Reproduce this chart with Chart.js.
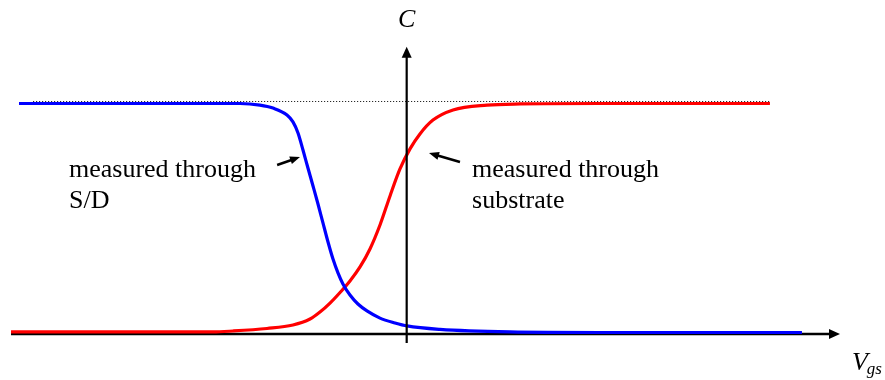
<!DOCTYPE html>
<html><head><meta charset="utf-8">
<script src="https://cdn.jsdelivr.net/npm/chart.js@4"></script>
<style>html,body{margin:0;padding:0;background:#fff}#wrap{width:885px;height:380px;position:relative}</style>
</head><body><div id="wrap"><canvas id="c"></canvas></div>
<script>
// Gate voltage (arbitrary units, 0 at the C axis) and normalised capacitance
const vgsSD  = [-4.677,-3.097,-2.011,-1.770,-1.613,-1.444,-1.372,-1.311,-1.251,-1.191,-1.130,-1.070,-1.010,-0.949,-0.889,-0.829,-0.769,-0.684,-0.588,-0.479,-0.322,-0.141,0.004,0.402,1.246,2.332,4.768];
const cSD    = [1.000,1.000,1.000,0.993,0.980,0.950,0.920,0.872,0.798,0.720,0.642,0.564,0.482,0.399,0.325,0.265,0.217,0.169,0.130,0.100,0.069,0.048,0.035,0.020,0.009,0.0065,0.0065];
const vgsSub = [-4.773,-3.097,-2.337,-2.095,-1.685,-1.372,-1.166,-1.046,-0.925,-0.804,-0.684,-0.563,-0.443,-0.322,-0.201,-0.081,0.040,0.160,0.317,0.559,0.969,1.367,2.332,4.382];
const cSub   = [0.009,0.009,0.009,0.013,0.024,0.039,0.065,0.095,0.134,0.180,0.230,0.291,0.369,0.473,0.599,0.716,0.803,0.868,0.928,0.972,0.993,0.998,1.000,1.000];
const refVgs = [-4.506, 4.382];
const refC   = [1.0087, 1.0087];
const axisTitleY = 'C';
const axisTitleX = 'V';
const axisTitleXSub = 'gs';
const labelSD  = ['measured through', 'S/D'];
const labelSub = ['measured through', 'substrate'];

const pts = (xs, ys) => xs.map((x, i) => ({x, y: ys[i]}));

function arrow(ctx, x1, y1, x2, y2, len, wid, lw) {
  const a = Math.atan2(y2 - y1, x2 - x1);
  const bx = x2 - len * Math.cos(a), by = y2 - len * Math.sin(a);
  ctx.lineWidth = lw;
  ctx.beginPath(); ctx.moveTo(x1, y1); ctx.lineTo(bx + Math.cos(a), by + Math.sin(a)); ctx.stroke();
  const px = -Math.sin(a) * wid / 2, py = Math.cos(a) * wid / 2;
  ctx.beginPath(); ctx.moveTo(x2, y2); ctx.lineTo(bx + px, by + py); ctx.lineTo(bx - px, by - py); ctx.closePath(); ctx.fill();
}

const decor = {
  id: 'decor',
  beforeDatasetsDraw(chart) {
    const {ctx, scales: {x, y}} = chart;
    ctx.save();
    ctx.strokeStyle = '#000'; ctx.fillStyle = '#000';
    arrow(ctx, x.getPixelForValue(-4.773), y.getPixelForValue(0), x.getPixelForValue(5.227), y.getPixelForValue(0), 11, 10, 2.4);
    ctx.restore();
  },
  afterDatasetsDraw(chart) {
    const {ctx, scales: {x, y}} = chart;
    ctx.save();
    ctx.strokeStyle = '#000'; ctx.fillStyle = '#000';
    arrow(ctx, x.getPixelForValue(0), y.getPixelForValue(-0.039), x.getPixelForValue(0), y.getPixelForValue(1.246), 11, 10, 2.2);
    // annotation arrows
    arrow(ctx, x.getPixelForValue(-1.563), y.getPixelForValue(0.733), x.getPixelForValue(-1.287), y.getPixelForValue(0.768), 10, 8, 2.5);
    arrow(ctx, x.getPixelForValue(0.643), y.getPixelForValue(0.746), x.getPixelForValue(0.269), y.getPixelForValue(0.785), 10, 8, 2.5);
    // texts
    ctx.textBaseline = 'alphabetic';
    ctx.font = '26px "Liberation Serif", "Times New Roman", serif';
    ctx.textAlign = 'left';
    ctx.fillText(labelSD[0], x.getPixelForValue(-4.074), y.getPixelForValue(0.681));
    ctx.fillText(labelSD[1], x.getPixelForValue(-4.074), y.getPixelForValue(0.547));
    ctx.fillText(labelSub[0], x.getPixelForValue(0.788), y.getPixelForValue(0.681));
    ctx.fillText(labelSub[1], x.getPixelForValue(0.788), y.getPixelForValue(0.547));
    ctx.font = 'italic 26px "Liberation Serif", "Times New Roman", serif';
    ctx.textAlign = 'center';
    ctx.fillText(axisTitleY, x.getPixelForValue(0), y.getPixelForValue(1.332));
    ctx.textAlign = 'left';
    const vx = x.getPixelForValue(5.371), vy = y.getPixelForValue(-0.156);
    ctx.fillText(axisTitleX, vx, vy);
    const w = ctx.measureText(axisTitleX).width;
    ctx.font = 'italic 17px "Liberation Serif", "Times New Roman", serif';
    ctx.fillText(axisTitleXSub, vx + w - 1, vy + 4);
    ctx.restore();
  }
};

new Chart(document.getElementById('c'), {
  type: 'line',
  data: {
    datasets: [
      {data: pts(vgsSub, cSub), borderColor: '#ff0000', borderWidth: 3.2, pointRadius: 0, cubicInterpolationMode: 'monotone', fill: false, order: 2},
      {data: pts(vgsSD, cSD), borderColor: '#0000ff', borderWidth: 3.2, pointRadius: 0, cubicInterpolationMode: 'monotone', fill: false, order: 1},
      {data: pts(refVgs, refC), borderColor: '#000', borderWidth: 1, borderDash: [1, 2], pointRadius: 0, fill: false, order: 0}
    ]
  },
  options: {
    responsive: true, maintainAspectRatio: false, animation: false, events: [],
    layout: {padding: 0},
    plugins: {legend: {display: false}, tooltip: {enabled: false}},
    scales: {
      x: {type: 'linear', display: false, min: -4.906, max: 5.770},
      y: {type: 'linear', display: false, min: -0.19957, max: 1.44902}
    }
  },
  plugins: [decor]
});
</script></body></html>
